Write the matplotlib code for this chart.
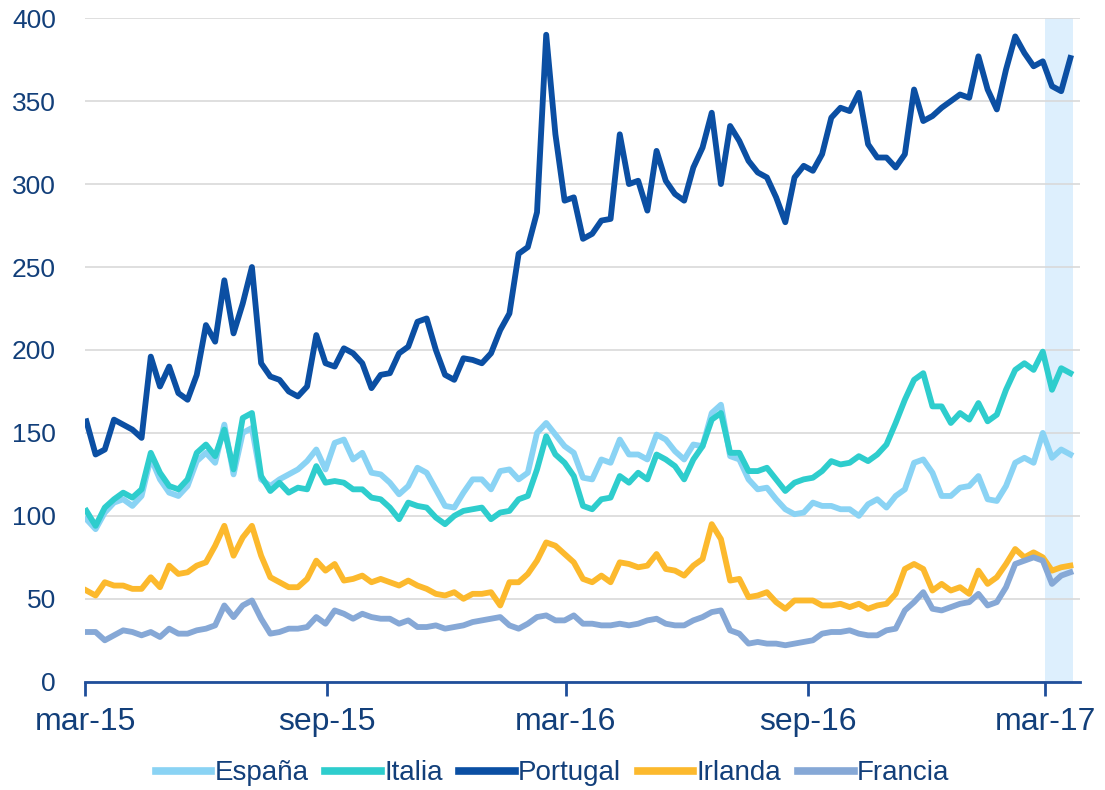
import numpy as np
import pandas as pd
import matplotlib.pyplot as plt

# weekly samples (bp)
dates = pd.date_range('2015-03-02', periods=108, freq='7D')

espana = [98, 92, 102, 108, 110, 106, 112, 135, 122, 114,
          112, 118, 133, 138, 132, 155, 125, 150, 153, 122,
          118, 122, 125, 128, 133, 140, 128, 144, 146, 134,
          138, 126, 125, 120, 113, 118, 129, 126, 116, 106,
          105, 114, 122, 122, 116, 127, 128, 122, 126, 150,
          156, 149, 142, 138, 123, 122, 134, 132, 146, 137,
          137, 134, 149, 146, 139, 134, 143, 142, 162, 167,
          136, 134, 122, 116, 117, 110, 104, 101, 102, 108,
          106, 106, 104, 104, 100, 107, 110, 105, 112, 116,
          132, 134, 126, 112, 112, 117, 118, 124, 110, 109,
          118, 132, 135, 132, 150, 135, 140, 137]

italia = [103, 94, 105, 110, 114, 111, 116, 138, 126, 118,
          116, 122, 138, 143, 136, 152, 128, 159, 162, 124,
          115, 120, 114, 117, 116, 130, 120, 121, 120, 116,
          116, 111, 110, 105, 98, 108, 106, 105, 99, 95,
          100, 103, 104, 105, 98, 102, 103, 110, 112, 128,
          148, 137, 132, 124, 106, 104, 110, 111, 124, 120,
          126, 122, 137, 134, 130, 122, 134, 142, 158, 162,
          138, 138, 127, 127, 129, 122, 115, 120, 122, 123,
          127, 133, 131, 132, 136, 133, 137, 143, 156, 170,
          182, 186, 166, 166, 156, 162, 158, 168, 157, 161,
          176, 188, 192, 188, 199, 176, 189, 186]

portugal = [157, 137, 140, 158, 155, 152, 147, 196, 178, 190,
            174, 170, 185, 215, 205, 242, 210, 228, 250, 192,
            184, 182, 175, 172, 178, 209, 192, 190, 201, 198,
            192, 177, 185, 186, 198, 202, 217, 219, 200, 185,
            182, 195, 194, 192, 198, 212, 222, 258, 262, 283,
            390, 330, 290, 292, 267, 270, 278, 279, 330, 300,
            302, 284, 320, 302, 294, 290, 310, 322, 343, 300,
            335, 326, 314, 307, 304, 292, 277, 304, 311, 308,
            318, 340, 346, 344, 355, 324, 316, 316, 310, 318,
            357, 338, 341, 346, 350, 354, 352, 377, 357, 345,
            369, 389, 379, 371, 374, 359, 356, 376]

irlanda = [55, 52, 60, 58, 58, 56, 56, 63, 57, 70,
           65, 66, 70, 72, 82, 94, 76, 87, 94, 76,
           63, 60, 57, 57, 62, 73, 67, 71, 61, 62,
           64, 60, 62, 60, 58, 61, 58, 56, 53, 52,
           54, 50, 53, 53, 54, 46, 60, 60, 65, 73,
           84, 82, 77, 72, 62, 60, 64, 60, 72, 71,
           69, 70, 77, 68, 67, 64, 70, 74, 95, 86,
           61, 62, 51, 52, 54, 48, 44, 49, 49, 49,
           46, 46, 47, 45, 47, 44, 46, 47, 53, 68,
           71, 68, 55, 59, 55, 57, 53, 67, 59, 63,
           71, 80, 75, 78, 75, 67, 69, 70]

francia = [30, 30, 25, 28, 31, 30, 28, 30, 27, 32,
           29, 29, 31, 32, 34, 46, 39, 46, 49, 38,
           29, 30, 32, 32, 33, 39, 35, 43, 41, 38,
           41, 39, 38, 38, 35, 37, 33, 33, 34, 32,
           33, 34, 36, 37, 38, 39, 34, 32, 35, 39,
           40, 37, 37, 40, 35, 35, 34, 34, 35, 34,
           35, 37, 38, 35, 34, 34, 37, 39, 42, 43,
           31, 29, 23, 24, 23, 23, 22, 23, 24, 25,
           29, 30, 30, 31, 29, 28, 28, 31, 32, 43,
           48, 54, 44, 43, 45, 47, 48, 53, 46, 48,
           57, 71, 73, 75, 73, 59, 64, 66]

series = [('España', espana, '#8AD3F4'),
          ('Italia', italia, '#2ECDCD'),
          ('Portugal', portugal, '#0B4FA3'),
          ('Irlanda', irlanda, '#FCB92D'),
          ('Francia', francia, '#86A8D6')]

tick_dates = pd.to_datetime(['2015-03-01', '2015-09-01', '2016-03-01',
                             '2016-09-01', '2017-03-01'])
tick_labels = ['mar-15', 'sep-15', 'mar-16', 'sep-16', 'mar-17']

text_col = '#123F7A'
plt.rcParams['font.family'] = ['Liberation Sans', 'DejaVu Sans']

fig = plt.figure(figsize=(11.05, 7.90), dpi=100)
ax = fig.add_axes([0.077, 0.137, 0.9, 0.840])

ax.axvspan(pd.Timestamp('2017-03-01'), pd.Timestamp('2017-03-22'),
           color='#DDEFFD', zorder=0, lw=0)

for name, vals, col in series:
    ax.plot(dates, vals, color=col, lw=4.2, label=name,
            solid_joinstyle='round', zorder=3)

ax.set_ylim(0, 400)
ax.set_yticks(np.arange(0, 401, 50))
ax.set_xlim(pd.Timestamp('2015-03-01'), pd.Timestamp('2017-03-27'))
ax.set_xticks(tick_dates)
ax.set_xticklabels(tick_labels)

ax.grid(axis='y', color='#D9D9D9', lw=1.2, zorder=1)
ax.set_axisbelow(True)
for s in ['left', 'right', 'top']:
    ax.spines[s].set_visible(False)
ax.spines['bottom'].set_color('#1F4E9A')
ax.spines['bottom'].set_linewidth(2)
ax.spines['bottom'].set_zorder(4)

ax.tick_params(axis='y', length=0, labelsize=19, labelcolor=text_col, pad=21)
ax.tick_params(axis='x', length=10, width=2, color='#1F4E9A',
               labelsize=23, labelcolor=text_col, pad=8)

leg = fig.legend(loc='lower center', bbox_to_anchor=(0.5, -0.027), ncol=5,
                 frameon=False, fontsize=20, handlelength=2.0,
                 handletextpad=0.12, columnspacing=0.6)
for t in leg.get_texts():
    t.set_color(text_col)
for h in leg.get_lines():
    h.set_linewidth(5.5)

fig.savefig('out.png', dpi=100)
